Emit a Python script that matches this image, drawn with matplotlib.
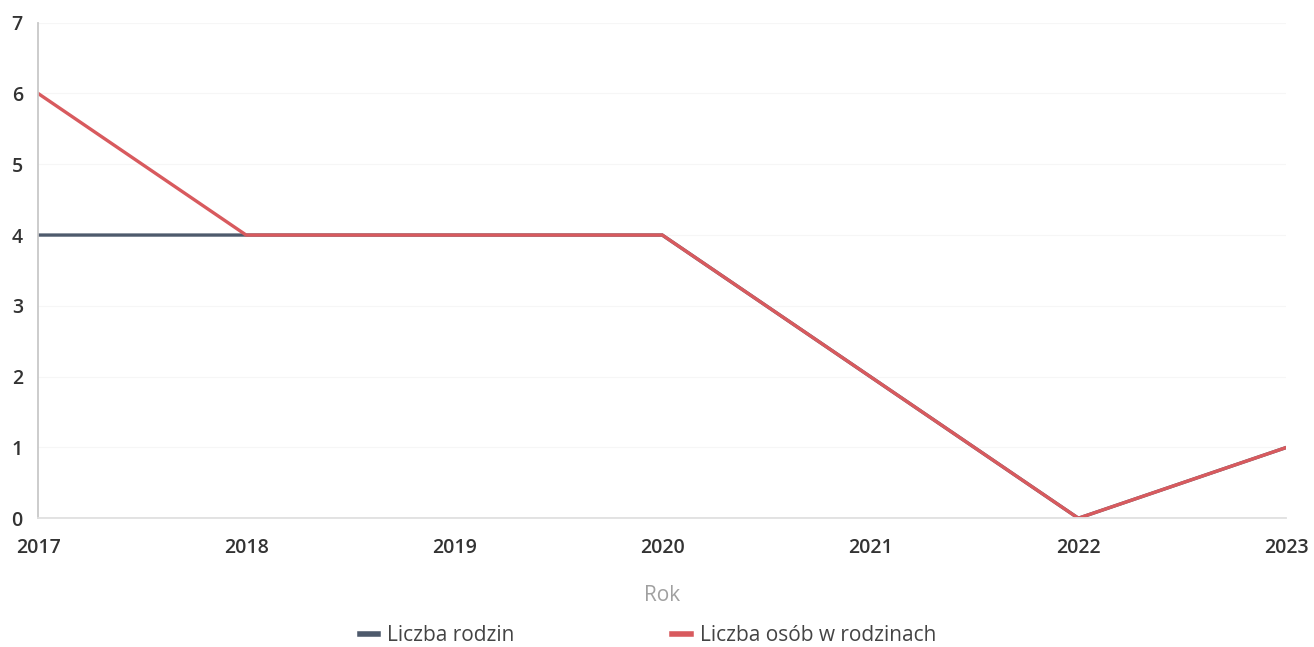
import matplotlib
matplotlib.use("Agg")
import matplotlib.pyplot as plt
from matplotlib.lines import Line2D

years = [2017, 2018, 2019, 2020, 2021, 2022, 2023]
liczba_rodzin = [4, 4, 4, 4, 2, 0, 1]
liczba_osob = [6, 4, 4, 4, 2, 0, 1]
y_ticks = [0, 1, 2, 3, 4, 5, 6, 7]

plt.rcParams['font.family'] = ['Open Sans', 'DejaVu Sans']

fig = plt.figure(figsize=(13.14, 6.47), dpi=100)
ax = fig.add_axes([0.029, 0.199, 0.950, 0.766])

c_blue = '#4e5a6c'
c_red = '#d85a5e'
ax.plot(years, liczba_rodzin, color=c_blue, lw=2.4, solid_joinstyle='miter')
ax.plot(years, liczba_osob, color=c_red, lw=2.4, solid_joinstyle='miter')

ax.set_xlim(2017, 2023)
ax.set_ylim(0, 7)
ax.set_xticks(years)
ax.set_yticks(y_ticks)
ax.grid(axis='y', color='#f6f6f6', lw=0.8)
ax.set_axisbelow(True)

for s in ['top', 'right']:
    ax.spines[s].set_visible(False)
ax.spines['left'].set_color('#c8c8c8')
ax.spines['left'].set_linewidth(1.3)
ax.spines['bottom'].set_color('#e0e0e0')
ax.spines['bottom'].set_linewidth(1.3)
ax.tick_params(length=0, labelsize=14, colors='#333333')
for lbl in ax.get_xticklabels() + ax.get_yticklabels():
    lbl.set_fontweight('semibold')
ax.tick_params(axis='y', pad=11)
ax.tick_params(axis='x', pad=14)

ax.set_xlabel('Rok', fontsize=15, color='#a0a0a0', labelpad=20)

handles = [Line2D([], [], color=c_blue, lw=4),
           Line2D([], [], color=c_red, lw=4)]
fig.legend(handles, ['Liczba rodzin', 'Liczba osób w rodzinach'],
           loc='center', bbox_to_anchor=(0.493, 0.018), ncol=2, frameon=False,
           fontsize=15, handlelength=0.9, handletextpad=0.4, columnspacing=7.6,
           labelcolor='#444444')

fig.savefig('out.png', dpi=100)
